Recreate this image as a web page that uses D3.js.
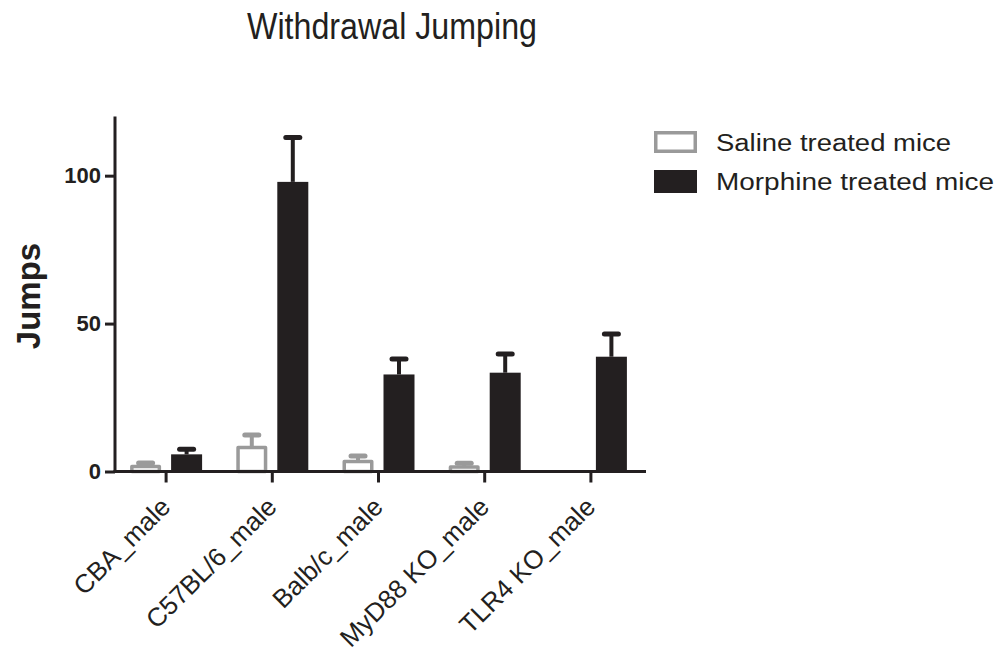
<!DOCTYPE html>
<html>
<head>
<meta charset="utf-8">
<script src="https://cdn.jsdelivr.net/npm/d3@7"></script>
<style>
  html, body { margin: 0; padding: 0; background: #fff; }
  text { font-family: "Liberation Sans", Arial, sans-serif; }
</style>
</head>
<body>
<svg id="chart" width="1003" height="656"></svg>
<script>
// ---- data ----
const categories = ["CBA_male", "C57BL/6_male", "Balb/c_male", "MyD88 KO_male", "TLR4 KO_male"];
const seriesNames = ["Saline treated mice", "Morphine treated mice"];
const salineMeans = [1.7, 8.1, 3.4, 1.5, 0];
const salineSEM   = [1.2, 4.2, 1.8, 1.3, 0];
const morphineMeans = [5.8, 97.9, 32.8, 33.4, 38.8];
const morphineSEM   = [1.7, 15.0, 5.2, 6.3, 7.7];
const yTicks = [0, 50, 100];
const titleText = "Withdrawal Jumping";
const yLabel = "Jumps";

// ---- layout ----
const svg = d3.select("#chart");
const dark = "#231f20";
const gray = "#9a9a9a";

const y = d3.scaleLinear().domain([0, 120]).range([471.5, 116.5]);
const x0 = d3.scaleBand().domain(categories).range([113, 644]);
const x1 = d3.scaleBand().domain(["saline", "morphine"]).range([-36, 36]).paddingInner(10 / 41);

const series = [
  { key: "saline", means: salineMeans, sem: salineSEM, color: gray, filled: false },
  { key: "morphine", means: morphineMeans, sem: morphineSEM, color: dark, filled: true }
];

// title
svg.append("text")
  .attr("x", 247).attr("y", 38.5)
  .attr("font-size", 36)
  .attr("fill", dark)
  .attr("textLength", 290)
  .attr("lengthAdjust", "spacingAndGlyphs")
  .text(titleText);

// bars
const sw = 3.5;
series.forEach(s => {
  const g = svg.append("g");
  categories.forEach((c, i) => {
    const cx = x0(c) + x0.bandwidth() / 2;
    const bx = cx + x1(s.key);
    const bw = x1.bandwidth();
    const v = s.means[i];
    const e = s.sem[i];
    if (v <= 0 && e <= 0) return;
    // error bar (upper only)
    const bxc = bx + bw / 2;
    g.append("line")
      .attr("x1", bxc).attr("x2", bxc)
      .attr("y1", y(v)).attr("y2", y(v + e))
      .attr("stroke", s.color).attr("stroke-width", 4);
    g.append("line")
      .attr("x1", bxc - 7).attr("x2", bxc + 7)
      .attr("y1", y(v + e)).attr("y2", y(v + e))
      .attr("stroke", s.color).attr("stroke-width", 5)
      .attr("stroke-linecap", "round");
    if (s.filled) {
      g.append("rect")
        .attr("x", bx).attr("width", bw)
        .attr("y", y(v)).attr("height", y(0) - y(v))
        .attr("fill", s.color);
    } else {
      g.append("rect")
        .attr("x", bx + sw / 2).attr("width", bw - sw)
        .attr("y", y(v)).attr("height", Math.max(0, y(0) - y(v)))
        .attr("fill", "#fff")
        .attr("stroke", s.color).attr("stroke-width", sw)
        .attr("stroke-linejoin", "round");
    }
  });
});

// y axis
const yAxis = d3.axisLeft(y).tickValues(yTicks).tickSize(10).tickPadding(4).tickFormat(d3.format("d"));
const gy = svg.append("g").attr("transform", "translate(115,0)").call(yAxis);
gy.select(".domain").attr("d", `M0,${y(120)}V${y(0) + 1.5}`).attr("stroke", dark).attr("stroke-width", 3);
gy.selectAll(".tick line").attr("stroke", dark).attr("stroke-width", 3);
gy.selectAll(".tick text")
  .attr("font-family", "'Liberation Sans', Arial, sans-serif")
  .attr("font-size", 22).attr("font-weight", "bold").attr("fill", dark);

// x axis
const xAxis = d3.axisBottom(x0).tickSize(11).tickFormat("");
const gx = svg.append("g").attr("transform", `translate(0,${y(0)})`).call(xAxis);
gx.select(".domain").attr("d", "M113.5,0H646").attr("stroke", dark).attr("stroke-width", 3);
gx.selectAll(".tick line").attr("stroke", dark).attr("stroke-width", 3);

// x labels rotated
svg.append("g").selectAll("text").data(categories).join("text")
  .attr("transform", d => `translate(${x0(d) + x0.bandwidth() / 2 + 6},508.5) rotate(-45)`)
  .attr("text-anchor", "end")
  .attr("font-size", 26)
  .attr("fill", dark)
  .text(d => d);

// y label
svg.append("text")
  .attr("transform", "translate(40,296) rotate(-90)")
  .attr("text-anchor", "middle")
  .attr("font-size", 33).attr("font-weight", "bold")
  .attr("fill", dark)
  .text(yLabel);

// legend
const legendY = [131, 170];
const legendTextLen = [235, 278];
series.forEach((s, i) => {
  if (s.filled) {
    svg.append("rect").attr("x", 654).attr("y", legendY[i]).attr("width", 43).attr("height", 23)
      .attr("fill", s.color);
  } else {
    svg.append("rect").attr("x", 654 + sw / 2).attr("y", legendY[i] + sw / 2)
      .attr("width", 43 - sw).attr("height", 22 - sw)
      .attr("fill", "#fff").attr("stroke", s.color).attr("stroke-width", sw);
  }
  svg.append("text")
    .attr("x", 716).attr("y", legendY[i] + 19.5)
    .attr("font-size", 23)
    .attr("fill", dark)
    .attr("textLength", legendTextLen[i])
    .attr("lengthAdjust", "spacingAndGlyphs")
    .text(seriesNames[i]);
});
</script>
</body>
</html>
